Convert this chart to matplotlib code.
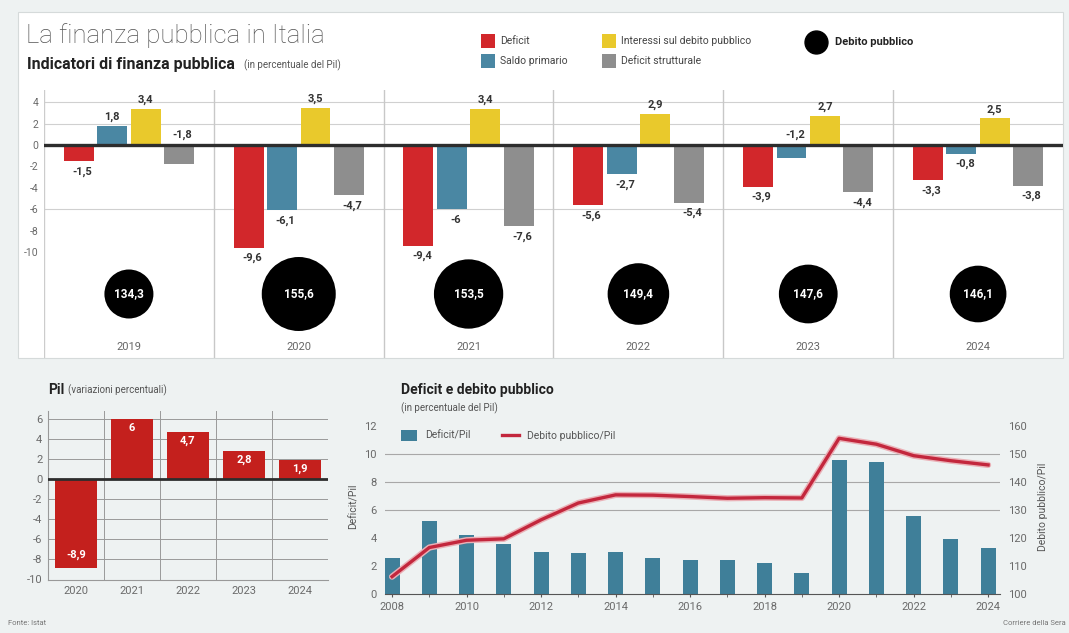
import numpy as np
import matplotlib.pyplot as plt
from matplotlib.patches import Rectangle
from matplotlib.lines import Line2D

plt.rcParams['font.family'] = ['Liberation Sans Narrow', 'Roboto', 'DejaVu Sans']
plt.rcParams['axes.unicode_minus'] = False

# %% data ---------------------------------------------------------------------
anni = ['2019', '2020', '2021', '2022', '2023', '2024']
deficit = [-1.5, -9.6, -9.4, -5.6, -3.9, -3.3]
saldo_primario = [1.8, -6.1, -6, -2.7, -1.2, -0.8]
interessi = [3.4, 3.5, 3.4, 2.9, 2.7, 2.5]
deficit_strutturale = [-1.8, -4.7, -7.6, -5.4, -4.4, -3.8]
debito = [134.3, 155.6, 153.5, 149.4, 147.6, 146.1]

anni_pil = ['2020', '2021', '2022', '2023', '2024']
pil = [-8.9, 6, 4.7, 2.8, 1.9]

anni_serie = list(range(2008, 2025))
deficit_pil = [2.6, 5.2, 4.2, 3.6, 3.0, 2.9, 3.0, 2.6, 2.4, 2.4, 2.2, 1.5,
               9.6, 9.4, 5.6, 3.9, 3.3]
debito_pil = [106.2, 116.6, 119.2, 119.7, 126.5, 132.5, 135.4, 135.3, 134.8,
              134.2, 134.4, 134.3, 155.6, 153.5, 149.4, 147.6, 146.1]

# colours
c_red = '#d2272b'
c_teal = '#4a87a3'
c_yel = '#e9c92c'
c_gray = '#8e8e8e'
c_txt = '#333333'
c_tick = '#6a6a6a'

W, H = 1069, 633


def fx(px):
    return px / W


def fy(py):
    return 1 - py / H


def fmt(v):
    return f'{v:g}'.replace('.', ',')


fig = plt.figure(figsize=(W / 100, H / 100), dpi=100)
fig.patch.set_facecolor('#eef2f2')

# white box behind the top chart
fig.patches.append(Rectangle((fx(18), fy(358)), (1063 - 18) / W, (358 - 12) / H,
                             transform=fig.transFigure, fc='white',
                             ec='#d5dada', lw=0.8, zorder=-5))

fig.text(fx(26), fy(36), 'La finanza pubblica in Italia', fontsize=18.5,
         color='#555555', va='center', ha='left', family=['Roboto', 'DejaVu Sans'],
         fontweight='light')
fig.text(fx(27), fy(64), 'Indicatori di finanza pubblica', fontsize=11.5,
         fontweight='bold', color='#222222', va='center')
fig.text(fx(244), fy(65), '(in percentuale del Pil)', fontsize=7,
         color='#555555', va='center')

# legend, built by hand
leg_items = [(481, 41, c_red, 'Deficit'), (481, 61, c_teal, 'Saldo primario'),
             (602, 41, c_yel, 'Interessi sul debito pubblico'),
             (602, 61, c_gray, 'Deficit strutturale')]
for x0, y0, col, lab in leg_items:
    fig.patches.append(Rectangle((fx(x0), fy(y0 + 7)), 14 / W, 14 / H,
                                 transform=fig.transFigure, fc=col, ec='none'))
    fig.text(fx(x0 + 19), fy(y0), lab, fontsize=7.5, color='#444444',
             va='center')
fig.add_artist(Line2D([fx(816)], [fy(42)], marker='o', markersize=16.5,
                      color='black', transform=fig.transFigure))
fig.text(fx(835), fy(42), 'Debito pubblico', fontsize=8, fontweight='bold',
         color='#222222', va='center')

# %% top chart: indicators per year + debt bubbles
ax = fig.add_axes([fx(44), fy(358), (1063 - 44) / W, (358 - 90) / H])
px_unit = 10.7
ax.set_xlim(-0.5, 5.5)
ax.set_ylim(-(358 - 145) / px_unit, (145 - 90) / px_unit)
ax.set_facecolor('none')
for s in ax.spines.values():
    s.set_visible(False)
ax.axvline(-0.5, color='#cccccc', lw=1)
ax.set_xticks([])
ax.set_yticks([4, 2, 0, -2, -4, -6, -8, -10])
ax.tick_params(axis='y', length=0, labelsize=7.5, labelcolor=c_tick, pad=4)

for g in [4, 2, -6]:
    ax.axhline(g, color='#d0d0d0', lw=0.8, zorder=0)
for k in range(5):
    ax.axvline(k + 0.5, color='#c8c8c8', lw=1, zorder=0)

x = np.arange(len(anni))
step, bw = 0.197, 0.176
series = [deficit, saldo_primario, interessi, deficit_strutturale]
colors = [c_red, c_teal, c_yel, c_gray]
# a few short negative bars carry their label above the zero line
above_zero = {(0, 3), (4, 1)}
for j, (vals, col) in enumerate(zip(series, colors)):
    xs = x + (j - 1.5) * step
    ax.bar(xs, vals, width=bw, color=col, zorder=2)
    for i, (xi, v) in enumerate(zip(xs, vals)):
        if v >= 0:
            ax.text(xi, v + 0.35, fmt(v), ha='center', va='bottom',
                    fontsize=8, fontweight='bold', color=c_txt)
        elif (i, j) in above_zero:
            ax.text(xi + 0.02, 0.5, fmt(v), ha='center', va='bottom',
                    fontsize=8, fontweight='bold', color=c_txt)
        else:
            ax.text(xi + 0.02, v - 0.5, fmt(v), ha='center', va='top',
                    fontsize=8, fontweight='bold', color=c_txt)

ax.axhline(0, color='#2d2d2d', lw=2.4, zorder=3)

# debt bubbles: diameter grows with the debt level
deb = np.array(debito)
diam_px = 49 + 25 * ((deb - deb.min()) / (deb.max() - deb.min())) ** 2
y_bub = -(294 - 145) / px_unit
ax.scatter(x, np.full(len(x), y_bub), s=(diam_px * 0.72) ** 2, color='black',
           zorder=3, linewidths=0)
for xi, v in zip(x, debito):
    ax.text(xi, y_bub, fmt(v), ha='center', va='center', color='white',
            fontsize=8.5, fontweight='bold', zorder=4)
for xi, a in zip(x, anni):
    ax.text(xi, -(347 - 145) / px_unit, a, ha='center', va='center',
            fontsize=8, color='#666666')

# %% bottom left: GDP growth
fig.text(fx(48), fy(390), 'Pil', fontsize=10, fontweight='bold',
         color='#222222', va='center')
fig.text(fx(68), fy(390), '(variazioni percentuali)', fontsize=7,
         color='#555555', va='center')

axp = fig.add_axes([fx(48), fy(580), (328 - 48) / W, (580 - 411) / H])
axp.set_facecolor('none')
axp.set_xlim(-0.5, 4.5)
axp.set_ylim(-10.1, 6.8)
for s in ['top', 'right']:
    axp.spines[s].set_visible(False)
axp.spines['left'].set_color('#999999')
axp.spines['bottom'].set_color('#999999')
for g in [6, 4, 2, -2, -4, -6, -8]:
    axp.axhline(g, color='#9a9a9a', lw=0.7, zorder=0)
for k in range(4):
    axp.axvline(k + 0.5, color='#9a9a9a', lw=0.7, zorder=0)
xp = np.arange(len(anni_pil))
axp.bar(xp, pil, width=0.74, color='#c4201d', zorder=2)
axp.axhline(0, color='#2d2d2d', lw=2, zorder=3)
for xi, v in zip(xp, pil):
    if v >= 0:
        axp.text(xi, v - 0.9, fmt(v), ha='center', va='center', color='white',
                 fontsize=8, fontweight='bold', zorder=4)
    else:
        axp.text(xi, v + 1.3, fmt(v), ha='center', va='center', color='white',
                 fontsize=8, fontweight='bold', zorder=4)
axp.set_xticks(xp)
axp.set_xticklabels(anni_pil)
axp.set_yticks([6, 4, 2, 0, -2, -4, -6, -8, -10])
axp.tick_params(length=0, labelsize=8, labelcolor=c_tick, pad=4)

fig.text(fx(8), fy(623), 'Fonte: Istat', fontsize=5.5, color='#777777',
         va='center')

# %% bottom right: deficit and debt series
fig.text(fx(401), fy(390), 'Deficit e debito pubblico', fontsize=10,
         fontweight='bold', color='#222222', va='center')
fig.text(fx(401), fy(408), '(in percentuale del Pil)', fontsize=7,
         color='#555555', va='center')

axd = fig.add_axes([fx(385), fy(594), (1000 - 385) / W, (594 - 419) / H])
axd.set_facecolor('none')
axd.set_xlim(2007.81, 2024.32)
axd.set_ylim(0, 12.5)
for s in ['top', 'right', 'left']:
    axd.spines[s].set_visible(False)
axd.spines['bottom'].set_color('#555555')
for g in [6, 8, 10]:
    axd.axhline(g, color='#a8a8a8', lw=0.8, zorder=0)
axd.bar(anni_serie, deficit_pil, width=0.4, color='#3f7f99', zorder=2)
axd.set_xticks(anni_serie, minor=True)
axd.set_xticks(anni_serie[::2])
axd.tick_params(axis='x', which='both', length=4, color='#555555',
                labelsize=8, labelcolor=c_tick, direction='inout')
axd.set_yticks(range(0, 13, 2))
axd.tick_params(axis='y', length=0, labelsize=8, labelcolor=c_tick, pad=6)
axd.set_ylabel('Deficit/Pil', fontsize=7.5, color='#555555', labelpad=4)

axr = axd.twinx()
axr.set_ylim(100, 162.5)
for s in axr.spines.values():
    s.set_visible(False)
axr.plot(anni_serie, debito_pil, color='#eab0b6', lw=4.5, zorder=3,
         solid_capstyle='round')
axr.plot(anni_serie, debito_pil, color='#c3273d', lw=2.4, zorder=4)
axr.set_yticks(range(100, 161, 10))
axr.tick_params(axis='y', length=0, labelsize=8, labelcolor=c_tick, pad=6)
axr.set_ylabel('Debito pubblico/Pil', fontsize=7.5, color='#555555',
               labelpad=8, rotation=90)

handles = [Rectangle((0, 0), 1, 1, fc='#3f7f99', ec='none'),
           Line2D([], [], color='#c3273d', lw=2.4)]
axd.legend(handles, ['Deficit/Pil', 'Debito pubblico/Pil'], loc='upper left',
           bbox_to_anchor=(0.01, 0.99), ncol=2, frameon=False, fontsize=7.5,
           handlelength=1.6, handleheight=1.2, columnspacing=3,
           labelcolor='#555555')

fig.text(fx(1066), fy(623), 'Corriere della Sera', fontsize=5.5,
         color='#777777', va='center', ha='right')

fig.savefig('out.png', dpi=100, facecolor=fig.get_facecolor())
